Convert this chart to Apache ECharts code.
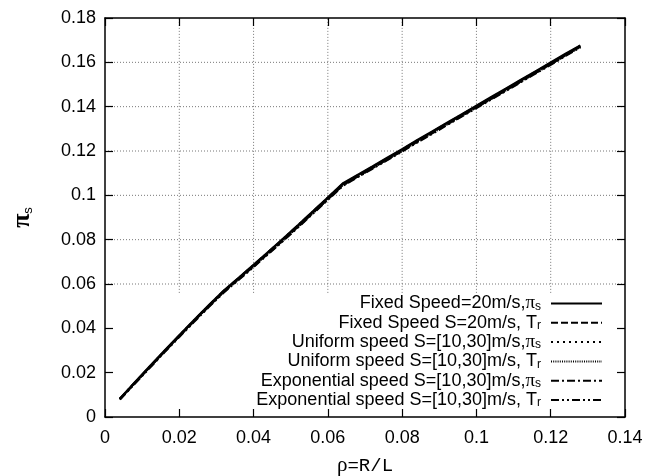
<!DOCTYPE html>
<html><head><meta charset="utf-8">
<script src="https://cdn.jsdelivr.net/npm/echarts@6/dist/echarts.min.js"></script>
<style>html,body{margin:0;padding:0;background:#fff}#c{width:656px;height:476px}</style>
</head><body><div id="c"></div><script>
const rho = [0.004,0.008,0.012,0.016,0.020,0.024,0.028,0.032,0.036,0.040,0.044,0.048,0.052,0.056,0.060,0.064,0.068,0.072,0.076,0.080,0.084,0.088,0.092,0.096,0.100,0.104,0.108,0.112,0.116,0.120,0.124,0.128];
const fixedPi = [0.0082,0.0155,0.0227,0.0298,0.0368,0.0437,0.0505,0.0570,0.0628,0.0686,0.0745,0.0805,0.0866,0.0928,0.0990,0.1053,0.1092,0.1130,0.1169,0.1208,0.1248,0.1287,0.1326,0.1365,0.1404,0.1443,0.1482,0.1521,0.1560,0.1599,0.1638,0.1676];
const fixedTr = [0.0080,0.0152,0.0224,0.0295,0.0364,0.0433,0.0500,0.0565,0.0622,0.0680,0.0739,0.0798,0.0859,0.0921,0.0983,0.1045,0.1085,0.1123,0.1162,0.1201,0.1241,0.1280,0.1319,0.1358,0.1397,0.1436,0.1475,0.1514,0.1553,0.1592,0.1632,0.1671];
const uniformPi = [0.0081,0.0154,0.0225,0.0296,0.0366,0.0435,0.0503,0.0568,0.0626,0.0684,0.0743,0.0803,0.0864,0.0926,0.0988,0.1050,0.1089,0.1127,0.1166,0.1205,0.1245,0.1284,0.1323,0.1362,0.1401,0.1440,0.1479,0.1518,0.1557,0.1596,0.1635,0.1674];
const uniformTr = [0.0079,0.0151,0.0222,0.0293,0.0362,0.0431,0.0498,0.0563,0.0620,0.0678,0.0737,0.0796,0.0857,0.0919,0.0981,0.1043,0.1083,0.1121,0.1160,0.1199,0.1239,0.1278,0.1317,0.1356,0.1395,0.1434,0.1473,0.1512,0.1551,0.1590,0.1630,0.1669];
const expPi = [0.0082,0.0154,0.0226,0.0297,0.0367,0.0436,0.0504,0.0569,0.0627,0.0685,0.0744,0.0804,0.0865,0.0927,0.0989,0.1051,0.1090,0.1128,0.1167,0.1206,0.1246,0.1285,0.1324,0.1363,0.1402,0.1441,0.1480,0.1519,0.1558,0.1597,0.1636,0.1675];
const expTr = [0.0079,0.0150,0.0221,0.0292,0.0361,0.0430,0.0497,0.0562,0.0619,0.0677,0.0736,0.0795,0.0856,0.0918,0.0980,0.1042,0.1082,0.1120,0.1159,0.1198,0.1238,0.1277,0.1316,0.1355,0.1394,0.1433,0.1472,0.1511,0.1550,0.1589,0.1629,0.1668];
const seriesNames = ["Fixed Speed=20m/s,π_s","Fixed Speed S=20m/s, T_r","Uniform speed S=[10,30]m/s,π_s","Uniform speed S=[10,30]m/s, T_r","Exponential speed S=[10,30]m/s,π_s","Exponential speed S=[10,30]m/s, T_r"];
const seriesValues = [fixedPi, fixedTr, uniformPi, uniformTr, expPi, expTr];
const xTickLabels = ["0","0.02","0.04","0.06","0.08","0.1","0.12","0.14"];
const yTickLabels = ["0","0.02","0.04","0.06","0.08","0.1","0.12","0.14","0.16","0.18"];
// grid lines (the opaque key box hides the lower part of the grid)
const xGridValues = [0.02,0.04,0.06,0.08,0.10,0.12];
const yGridValues = [0.06,0.08,0.10,0.12,0.14,0.16];
const keyBoxTop = 0.056;
const xMax = 0.14, yMax = 0.18;

const dashTypes = ['solid',[7,3],[2,4],[1,1.2],[8,3,2,3],[8,3,2,3,2,3]];
const widths = [2.4,2.2,2.2,1.6,2.2,2.2];
const FONT = 'Liberation Sans';
const gridPos = {left:105, right:31, top:18, bottom:59, containLabel:false, outerBoundsMode:'none'};

const chart = echarts.init(document.getElementById('c'), null, {renderer:'canvas'});
const lab = (arr) => (v) => { const i = Math.round(v/0.02); return arr[i] !== undefined ? arr[i] : ''; };

const gridStyle = {color:'#777', width:1, type:[1,2]};
const series = [];
xGridValues.forEach((x) => series.push({type:'line', silent:true, z:1, symbol:'none', animation:false,
  lineStyle:gridStyle, data:[[x, keyBoxTop],[x, yMax]]}));
yGridValues.forEach((y) => series.push({type:'line', silent:true, z:1, symbol:'none', animation:false,
  lineStyle:gridStyle, data:[[0, y],[xMax, y]]}));
seriesNames.forEach((n, k) => series.push({
  name: n, type: 'line', z: 3 + (5 - k),
  symbol: 'none', showSymbol: false, smooth: false, animation: false,
  lineStyle: {color:'#000', width: widths[k], type: dashTypes[k]},
  itemStyle: {color:'#000'},
  data: rho.map((x, i) => [x, seriesValues[k][i]])
}));

const frameLine = {show:true, onZero:false, lineStyle:{color:'#000', width:1.5}};
const frameTick = {show:true, inside:true, length:8, lineStyle:{color:'#000', width:1.2}};

chart.setOption({
  backgroundColor:'#fff',
  animation:false,
  grid: Object.assign({show:false}, gridPos),
  xAxis: [
    {type:'value', min:0, max:xMax, interval:0.02, position:'bottom', z:10,
      axisLine: frameLine, axisTick: frameTick, splitLine:{show:false},
      axisLabel:{show:true, margin:12, color:'#000', fontFamily:FONT, fontSize:18, formatter: lab(xTickLabels)},
      name:'{g|ρ}{m|=R/L}', nameLocation:'middle', nameGap:38,
      nameTextStyle:{color:'#000', rich:{g:{fontFamily:'Liberation Serif', fontSize:21, color:'#000'}, m:{fontFamily:'Liberation Mono', fontSize:19, color:'#000'}}}},
    {type:'value', min:0, max:xMax, interval:0.02, position:'top', z:10,
      axisLine: frameLine, axisTick: frameTick, splitLine:{show:false}, axisLabel:{show:false}}
  ],
  yAxis: [
    {type:'value', min:0, max:yMax, interval:0.02, position:'left', z:10,
      axisLine: frameLine, axisTick: frameTick, splitLine:{show:false},
      axisLabel:{show:true, margin:9, color:'#000', fontFamily:FONT, fontSize:18, formatter: lab(yTickLabels)},
      name:'{g|π}{s|s}', nameLocation:'middle', nameGap:70, nameRotate:90,
      nameTextStyle:{color:'#000', rich:{g:{fontFamily:'Liberation Serif', fontWeight:'bold', fontSize:26, color:'#000', lineHeight:26}, s:{fontFamily:FONT, fontSize:13, color:'#000', verticalAlign:'bottom', lineHeight:26}}}},
    {type:'value', min:0, max:yMax, interval:0.02, position:'right', z:10,
      axisLine: frameLine, axisTick: frameTick, splitLine:{show:false}, axisLabel:{show:false}}
  ],
  legend: {
    data: seriesNames, orient:'vertical', align:'right', right:53, top:294,
    padding:0, itemGap:0.8, itemWidth:51, itemHeight:10, selectedMode:false, z:20,
    itemStyle: {opacity:0, borderWidth:0},
    formatter: (n) => {
      const m = n.match(/^(.*)(π|T)_(s|r)$/);
      return '{t|' + m[1] + '}' + (m[2] === 'π' ? '{p|π}' : '{t|T}') + '{s|' + m[3] + '}{g|}';
    },
    textStyle: {color:'#000', fontFamily:FONT, fontSize:18,
      rich: {
        t:{fontFamily:FONT, fontSize:18, color:'#000', lineHeight:18},
        p:{fontFamily:'Liberation Serif', fontSize:19, color:'#000', lineHeight:18},
        s:{fontFamily:FONT, fontSize:12, color:'#000', lineHeight:18, verticalAlign:'bottom'},
        g:{width:5, lineHeight:18}
      }}
  },
  series: series
});
</script></body></html>
